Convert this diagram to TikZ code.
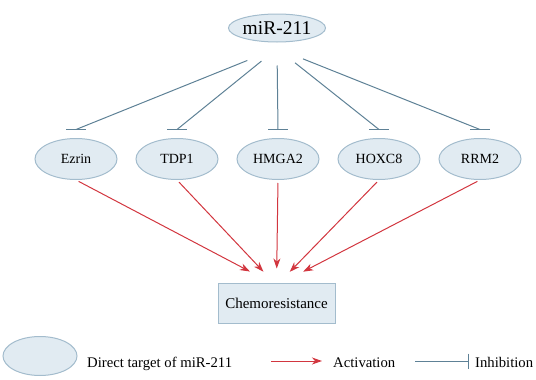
\documentclass[tikz,border=0pt]{standalone}
\usepackage{fontspec}
\setmainfont{Liberation Serif}
\usepackage{xcolor}
\usepackage{tikz}
\usetikzlibrary{positioning,arrows.meta,shapes.geometric,calc}
\definecolor{nodefill}{HTML}{E1EBF2}
\definecolor{nodeline}{HTML}{A3BCCD}
\definecolor{inhcol}{HTML}{5E8196}
\definecolor{actcol}{HTML}{D2363F}

\begin{document}
\begin{tikzpicture}[
    x=1pt, y=-1pt,
    node distance=18pt,
    target/.style={ellipse, draw=nodeline, line width=1pt, fill=nodefill, minimum width=82pt, minimum height=41pt, inner sep=0pt, font=\rmfamily\fontsize{14}{16}\selectfont},
    mirbox/.style={target, minimum width=91pt, minimum height=28pt, font=\rmfamily\fontsize{19.5}{21}\selectfont},
    result/.style={draw=nodeline, line width=1pt, fill=nodefill, minimum width=117pt, minimum height=40pt, inner sep=0pt, font=\rmfamily\fontsize{15}{17}\selectfont},
    lbl/.style={anchor=base west, inner sep=0pt, font=\rmfamily\fontsize{14.7}{17}\selectfont},
    inh/.style={draw=inhcol, line width=1pt},
    act/.style={draw=actcol, line width=1pt, -{Stealth[length=10pt, width=7pt, inset=3pt]}}
]
\useasboundingbox (0,0) rectangle (536,380);

\node[mirbox] (mir) at (277,28) {miR-211};

\node[target] (hmga2) at (278,159) {HMGA2};
\node[target, left=of hmga2] (tdp1) {TDP1};
\node[target, left=of tdp1] (ezrin) {Ezrin};
\node[target, right=of hmga2] (hoxc8) {HOXC8};
\node[target, right=of hoxc8] (rrm2) {RRM2};

\node[result] (chemo) at (276.5,303) {Chemoresistance};

\coordinate (hub) at ([yshift=-6pt]mir.south);
\coordinate (conv) at ([yshift=-3pt]chemo.north);

\foreach \n/\s in {ezrin/32pt, tdp1/20pt, hmga2/17pt, hoxc8/23pt, rrm2/28pt} {
  \coordinate (tee-\n) at ([yshift=8.5pt]\n.north);
  \draw[inh, shorten <=\s] (hub) -- (tee-\n);
  \draw[inh] ([xshift=-10pt]tee-\n) -- ([xshift=10pt]tee-\n);
}

\foreach \n/\s in {ezrin/30pt, tdp1/19pt, hmga2/17pt, hoxc8/19pt, rrm2/30pt}
  \draw[act, shorten <=3pt, shorten >=\s] (\n.south) -- (conv);

\node[target, minimum width=74pt, minimum height=39pt] (key) at (40,356) {};
\node[lbl] (keytext) at (87,367) {Direct target of miR-211};
\coordinate (acta) at (271,361);
\coordinate (actb) at (322,361);
\draw[act] (acta) -- (actb);
\node[lbl] (acttext) at (333,367) {Activation};
\coordinate (inha) at (415,361);
\coordinate (inhb) at (468,361);
\draw[inh] (inha) -- (inhb);
\draw[inh] ([yshift=7.5pt]inhb) -- ([yshift=-7.5pt]inhb);
\node[lbl] (inhtext) at (475,367) {Inhibition};
\end{tikzpicture}
\end{document}
